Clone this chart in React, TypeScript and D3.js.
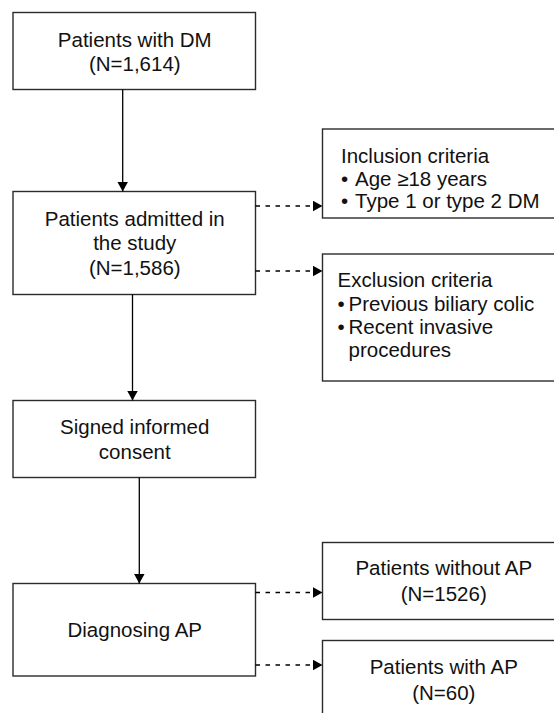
import * as d3 from "d3";
import { useEffect, useRef } from "react";

// flow content
const mainSteps = ["Patients with DM", "Patients admitted in|the study", "Signed informed|consent", "Diagnosing AP"];
const mainCounts = ["1,614", "1,586", "", ""];
const criteriaTitles = ["Inclusion criteria", "Exclusion criteria"];
const inclusionItems = ["Age ≥18 years", "Type 1 or type 2 DM"];
const exclusionItems = ["Previous biliary colic", "Recent invasive|procedures"];
const outcomeLabels = ["Patients without AP", "Patients with AP"];
const outcomeCounts = ["1526", "60"];

const W = 554;
const H = 713;
const FONT = "'Liberation Sans', Arial, sans-serif";
const FS = 20.5;

const drawChart = (el: SVGSVGElement) => {
	const svg = d3.select(el);
	svg.selectAll("*").remove();

	const defs = svg.append("defs");
	defs
		.append("marker")
		.attr("id", "head")
		.attr("markerUnits", "userSpaceOnUse")
		.attr("viewBox", "0 0 10 10")
		.attr("refX", 10)
		.attr("refY", 5)
		.attr("markerWidth", 10)
		.attr("markerHeight", 11)
		.attr("orient", "auto")
		.attr("preserveAspectRatio", "none")
		.append("path")
		.attr("d", "M0,0L10,5L0,10Z")
		.attr("fill", "#000");

	// layout: left column and right column
	const leftX = 13;
	const rightX = 322.5;
	const boxW = 242.5;
	const mainBoxes = [
		{ y: 12.5, h: 77, base: [47, 70.5], cx: 0 },
		{ y: 191.5, h: 103, base: [226, 250, 274.5], cx: 0 },
		{ y: 400.5, h: 77, base: [434, 459], cx: 0 },
		{ y: 583.5, h: 92.5, base: [637], cx: 0 }
	];

	const line = d3.line<[number, number]>();
	const box = (x: number, y: number, h: number) =>
		svg
			.append("rect")
			.attr("x", x)
			.attr("y", y)
			.attr("width", boxW)
			.attr("height", h)
			.attr("fill", "#fff")
			.attr("stroke", "#2b2b2b")
			.attr("stroke-width", 1.4);

	const text = (x: number, y: number, s: string, anchor = "middle") =>
		svg
			.append("text")
			.attr("x", x)
			.attr("y", y)
			.attr("text-anchor", anchor)
			.attr("font-family", FONT)
			.attr("font-size", FS)
			.attr("fill", "#111")
			.text(s);

	const arrow = (pts: [number, number][], dashed: boolean) =>
		svg
			.append("path")
			.attr("d", line(pts))
			.attr("fill", "none")
			.attr("stroke", "#000")
			.attr("stroke-width", 1.3)
			.attr("stroke-dasharray", dashed ? "4.5,5.5" : null)
			.attr("marker-end", "url(#head)");

	// main column
	mainSteps.forEach((label, i) => {
		const b = mainBoxes[i];
		box(leftX, b.y, b.h);
		const lines = label.split("|");
		if (mainCounts[i]) lines.push(`(N=${mainCounts[i]})`);
		lines.forEach((s, j) => text(leftX + boxW / 2 + 0.5, b.base[j], s));
	});

	// vertical solid arrows
	const vx = [122.7, 132.5, 139.3];
	vx.forEach((x, i) => {
		const a = mainBoxes[i];
		const b = mainBoxes[i + 1];
		arrow([[x, a.y + a.h], [x, b.y]], false);
	});

	// criteria boxes
	const critBoxes = [
		{ y: 129, h: 89, x0: 341, base: [163, 185.5, 208], arrowY: 206 },
		{ y: 254, h: 127, x0: 337.5, base: [287, 310.5, 334, 356.5], arrowY: 271 }
	];
	[inclusionItems, exclusionItems].forEach((items, i) => {
		const c = critBoxes[i];
		box(rightX, c.y, c.h);
		text(c.x0, c.base[0], criteriaTitles[i], "start");
		let k = 1;
		items.forEach(item => {
			item.split("|").forEach((s, j) => {
				if (j === 0) text(c.x0, c.base[k], "•", "start");
				text(c.x0 + (i === 0 ? 14 : 11), c.base[k], s, "start");
				k++;
			});
		});
		arrow([[leftX + boxW, c.arrowY], [rightX, c.arrowY]], true);
	});

	// outcome boxes
	const outBoxes = [
		{ y: 542.5, h: 77, base: [575, 600.5], arrowY: 592.5 },
		{ y: 640.5, h: 90, base: [674, 700], arrowY: 665 }
	];
	outcomeLabels.forEach((label, i) => {
		const o = outBoxes[i];
		box(rightX, o.y, o.h);
		text(rightX + boxW / 2, o.base[0], label);
		text(rightX + boxW / 2, o.base[1], `(N=${outcomeCounts[i]})`);
		arrow([[leftX + boxW, o.arrowY], [rightX, o.arrowY]], true);
	});
};

export default function App() {
	const ref = useRef<SVGSVGElement>(null);

	useEffect(() => {
		if (ref.current) drawChart(ref.current);
	}, []);

	return (
		<svg
			ref={ref}
			width={W}
			height={H}
			style={{ position: "absolute", left: 0, top: 0, background: "#fff" }}
		/>
	);
}
